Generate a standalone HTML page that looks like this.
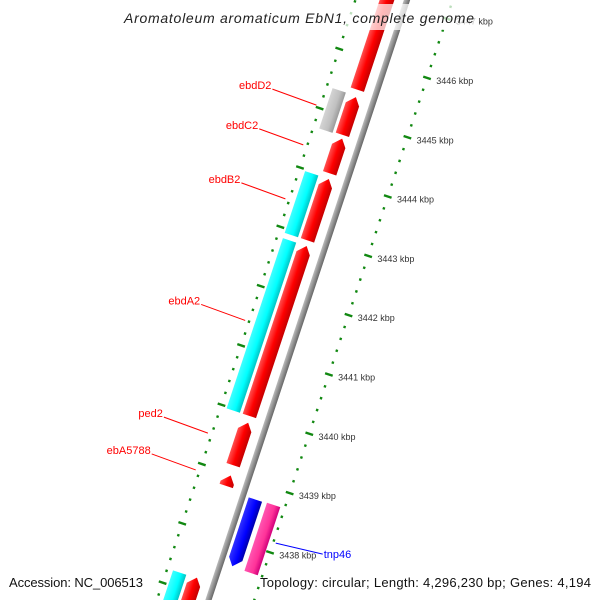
<!DOCTYPE html>
<html><head><meta charset="utf-8"><style>
html,body{margin:0;padding:0;background:#fff;width:600px;height:600px;overflow:hidden;}
svg{display:block;font-family:"Liberation Sans",sans-serif;overflow:hidden;}
</style></head><body>
<svg id="chart" width="600" height="600" viewBox="0 0 600 600" xmlns="http://www.w3.org/2000/svg">
<defs>
<clipPath id="frame"><rect x="0" y="0" width="600" height="600"/></clipPath>
<linearGradient id="gRed" x1="0" x2="1" y1="0" y2="0"><stop offset="0" stop-color="#ff5050"/><stop offset="0.5" stop-color="#ff0000"/><stop offset="1" stop-color="#c40000"/></linearGradient>
<linearGradient id="gCyan" x1="0" x2="1" y1="0" y2="0"><stop offset="0" stop-color="#40ffff"/><stop offset="0.6" stop-color="#00ffff"/><stop offset="1" stop-color="#00c4c4"/></linearGradient>
<linearGradient id="gGray" x1="0" x2="1" y1="0" y2="0"><stop offset="0" stop-color="#d4d4d4"/><stop offset="0.6" stop-color="#c0c0c0"/><stop offset="1" stop-color="#9a9a9a"/></linearGradient>
<linearGradient id="gBlue" x1="0" x2="1" y1="0" y2="0"><stop offset="0" stop-color="#3030ff"/><stop offset="0.6" stop-color="#0000ff"/><stop offset="1" stop-color="#0000a8"/></linearGradient>
<linearGradient id="gPink" x1="0" x2="1" y1="0" y2="0"><stop offset="0" stop-color="#ff55b0"/><stop offset="0.6" stop-color="#ff3399"/><stop offset="1" stop-color="#d0007a"/></linearGradient>
<linearGradient id="gBack" x1="0" x2="1" y1="0" y2="0"><stop offset="0" stop-color="#bbbbbb"/><stop offset="0.4" stop-color="#999999"/><stop offset="1" stop-color="#666666"/></linearGradient>
</defs>
<g clip-path="url(#frame)">
<g id="map" transform="matrix(0.949,0.314,-0.314,0.949,407,0)"></g>
<g id="overlay"></g>
</g>
</svg>
<script>
// Data (kbp)
const redStarts = [3445.45, 3444.69, 3444.04, 3442.91, 3439.95, 3439.12, 3438.77, 3436.5];
const redEnds   = [3447.5, 3445.37, 3444.67, 3443.99, 3442.86, 3439.88, 3438.99, 3437.27];
const cyanStarts = [3442.91, 3439.95, 3436.5];
const cyanEnds   = [3443.99, 3442.86, 3437.26];
const grayStarts = [3444.69];
const grayEnds   = [3445.37];
const blueStarts = [3437.60];
const blueEnds   = [3438.73];
const pinkStarts = [3437.59];
const pinkEnds   = [3438.74];
const tickKbp = [3447, 3446, 3445, 3444, 3443, 3442, 3441, 3440, 3439, 3438, 3437];
const tickLabels = ["3447 kbp","3446 kbp","3445 kbp","3444 kbp","3443 kbp","3442 kbp","3441 kbp","3440 kbp","3439 kbp","3438 kbp","3437 kbp"];
const geneNames = ["ebdD2","ebdC2","ebdB2","ebdA2","ped2","ebA5788","tnp46"];
const geneKbp   = [3445.03, 3444.36, 3443.45, 3441.40, 3439.50, 3438.88, 3438.17];

const NS = "http://www.w3.org/2000/svg";
const map = document.getElementById('map');
const overlay = document.getElementById('overlay');
function sOf(k){ return 67.7 + (3446 - k) * 62.5; }
function toScreen(r, s){ return [407 + 0.949*r - 0.314*s, 0.314*r + 0.949*s]; }
function mk(tag, attrs, parent){ const e=document.createElementNS(NS,tag); for(const k in attrs) e.setAttribute(k, attrs[k]); parent.appendChild(e); return e; }

// backbone
const bb = mk('rect',{x:-3,y:-40,width:6,height:700,fill:'url(#gBack)'},map);



// ticks
for(let i=0;i<=60;i++){
  const k = 3448 - i*0.2;
  const major = Math.abs(k - Math.round(k)) < 0.01;
  const s = sOf(k);
  [43.5,-49].forEach((r)=>{
    const t = major ? mk('rect',{x:r-4,y:s-1.2,width:8,height:2.4,fill:'#118811'},map)
                    : mk('rect',{x:r-1.2,y:s-1.2,width:2.4,height:2.4,fill:'#118811'},map);
    
    
  });
}

function feature(lo, hi, r, w, fill, dir, name){
  const sTop = sOf(hi), sBot = sOf(lo), h = 8, a = r - w/2, b = r + w/2;
  let pts;
  if(dir === 1) pts = [[a,sBot],[a,sTop+h],[r+1,sTop],[b,sTop+h],[b,sBot]];
  else if(dir === -1) pts = [[a,sTop],[b,sTop],[b,sBot-h],[r-1,sBot],[a,sBot-h]];
  else pts = [[a,sTop],[b,sTop],[b,sBot],[a,sBot]];
  const p = mk('polygon',{points:pts.map(q=>q.join(',')).join(' '),fill:fill},map);
  
  
}
const GAP = 0.02;
for(let i=0;i<redStarts.length;i++) feature(redStarts[i]+GAP, redEnds[i]-GAP, -19, 14, 'url(#gRed)', 1, 'red-gene');
for(let i=0;i<cyanStarts.length;i++) feature(cyanStarts[i]+GAP, cyanEnds[i]-GAP, -36, 14, 'url(#gCyan)', 0, 'cyan-feature');
for(let i=0;i<grayStarts.length;i++) feature(grayStarts[i], grayEnds[i], -36, 14, 'url(#gGray)', 0, 'gray-feature');
for(let i=0;i<blueStarts.length;i++) feature(blueStarts[i], blueEnds[i], 13, 14, 'url(#gBlue)', -1, 'blue-gene');
for(let i=0;i<pinkStarts.length;i++) feature(pinkStarts[i], pinkEnds[i], 32, 14, 'url(#gPink)', 0, 'pink-feature');

// tick labels
for(let i=0;i<tickKbp.length;i++){
  const [x,y] = toScreen(50, sOf(tickKbp[i]));
  if(y < 10 || y > 590) continue;
  const t = mk('text',{x:x+3,y:y+4,'font-size':9,fill:'#333'},overlay);
  t.textContent = tickLabels[i];
  
  
}

// gene labels
for(let i=0;i<geneNames.length;i++){
  const s = sOf(geneKbp[i]);
  const right = geneNames[i] === 'tnp46';
  const col = right ? '#0000ff' : '#ff0000';
  const [x1,y1] = toScreen(right ? 46 : -53, s);
  const x2 = right ? x1 + 47 : x1 - 44, y2 = right ? y1 + 11 : y1 - 16;
  const l = mk('line',{x1:x1,y1:y1,x2:x2,y2:y2,stroke:col,'stroke-width':1},overlay);
  
  
  const t = mk('text',{x:right ? x2+1 : x2-1,y:y2+(right?4:0),'font-size':11,fill:col,'text-anchor':right?'start':'end'},overlay);
  t.textContent = geneNames[i];
  
  
}

// title band and texts
const band = mk('rect',{x:118,y:4,width:360,height:26,fill:'#fff','fill-opacity':0.72},overlay);


const title = mk('text',{x:124,y:23,'font-size':14,'font-style':'italic',fill:'#222',textLength:350,lengthAdjust:'spacing'},overlay);
title.textContent = 'Aromatoleum aromaticum EbN1, complete genome';


const acc = mk('text',{x:9,y:587,'font-size':13,fill:'#111',textLength:134,lengthAdjust:'spacing'},overlay);
acc.textContent = 'Accession: NC_006513';


const topo = mk('text',{x:260,y:587,'font-size':13,fill:'#111',textLength:331,lengthAdjust:'spacing'},overlay);
topo.textContent = 'Topology: circular; Length: 4,296,230 bp; Genes: 4,194';


</script>
</body></html>
